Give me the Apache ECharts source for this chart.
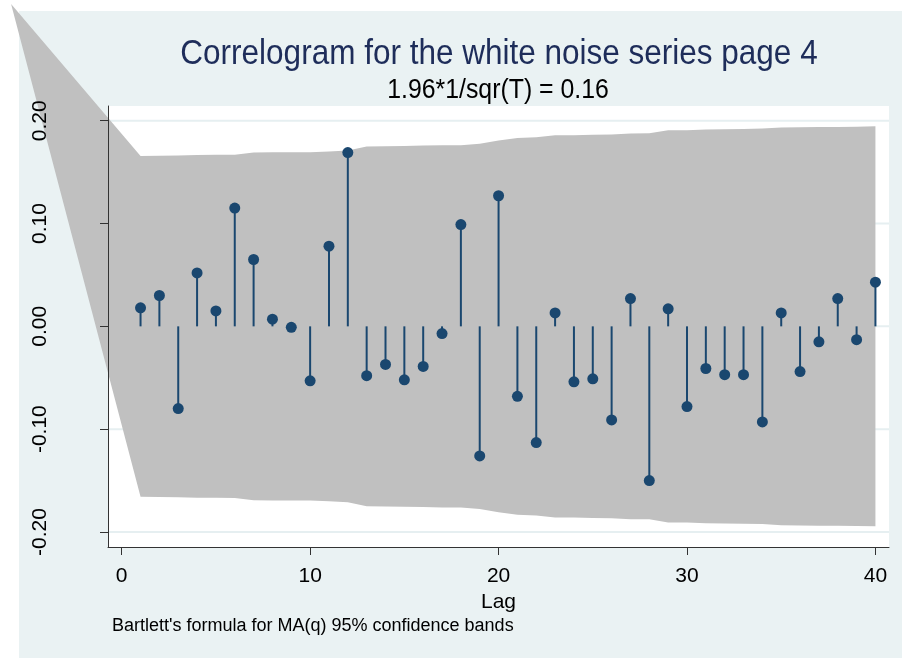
<!DOCTYPE html>
<html>
<head>
<meta charset="utf-8">
<script src="https://cdn.jsdelivr.net/npm/echarts@6/dist/echarts.min.js"></script>
<style>
  html, body { margin: 0; padding: 0; background: #ffffff; }
  #chart { width: 902px; height: 658px; }
</style>
</head>
<body>
<div id="chart"></div>
<script>
// Autocorrelations of the white noise series, lags 1..40
const lags = [1, 2, 3, 4, 5, 6, 7, 8, 9, 10,
              11, 12, 13, 14, 15, 16, 17, 18, 19, 20,
              21, 22, 23, 24, 25, 26, 27, 28, 29, 30,
              31, 32, 33, 34, 35, 36, 37, 38, 39, 40];
const acValues = [0.018, 0.030, -0.080, 0.052, 0.015, 0.115, 0.065, 0.007, -0.001, -0.053,
                  0.078, 0.169, -0.048, -0.037, -0.052, -0.039, -0.007, 0.099, -0.126, 0.127,
                  -0.068, -0.113, 0.013, -0.054, -0.051, -0.091, 0.027, -0.150, 0.017, -0.078,
                  -0.041, -0.047, -0.047, -0.093, 0.013, -0.044, -0.015, 0.027, -0.013, 0.043];
// Bartlett 95% band half-width at each lag
const bandHalfWidth = [0.1657, 0.1659, 0.1661, 0.1666, 0.1668, 0.1670, 0.1691, 0.1693, 0.1694, 0.1694,
                       0.1700, 0.1710, 0.1749, 0.1751, 0.1754, 0.1758, 0.1761, 0.1761, 0.1777, 0.1807,
                       0.1832, 0.1839, 0.1858, 0.1859, 0.1863, 0.1867, 0.1875, 0.1877, 0.1907, 0.1908,
                       0.1915, 0.1917, 0.1920, 0.1923, 0.1935, 0.1936, 0.1939, 0.1939, 0.1941, 0.1945];
// Leading vertex of the band polygon (lag, value)
const bandApex = [-5.87, 0.3135];

const xTickValues = [0, 10, 20, 30, 40];
const yTickValues = [-0.2, -0.1, 0, 0.1, 0.2];

const titleText = 'Correlogram for the white noise series page 4';
const subtitleText = '1.96*1/sqr(T) = 0.16';
const noteText = "Bartlett's formula for MA(q) 95% confidence bands";
const xAxisTitle = 'Lag';

const NAVY = '#1a476f';
const FONT = '"Liberation Sans", Arial, sans-serif';

const chart = echarts.init(document.getElementById('chart'), null, { renderer: 'canvas' });

chart.setOption({
  animation: false,
  backgroundColor: '#ffffff',
  textStyle: { fontFamily: FONT },
  graphic: [
    {
      type: 'rect', z: -10, silent: true,
      shape: { x: 19, y: 11, width: 883, height: 647 },
      style: { fill: '#eaf2f3' }
    },
    {
      type: 'text', z: 10, x: 499, y: 54, scaleX: 0.9,
      style: { text: titleText, font: '35px ' + FONT, fill: '#1e2d5a', textAlign: 'center', textVerticalAlign: 'middle' }
    },
    {
      type: 'text', z: 10, x: 498, y: 91, scaleX: 0.92,
      style: { text: subtitleText, font: '27px ' + FONT, fill: '#000000', textAlign: 'center', textVerticalAlign: 'middle' }
    },
    {
      type: 'text', z: 10, x: 112, y: 626,
      style: { text: noteText, font: '18px ' + FONT, fill: '#000000', textAlign: 'left', textVerticalAlign: 'middle' }
    }
  ],
  grid: {
    left: 108, right: 13, top: 106, bottom: 111,
    show: true, backgroundColor: '#ffffff', borderWidth: 0
  },
  xAxis: {
    type: 'value',
    z: 5,
    min: -0.727, max: 40.72,
    name: xAxisTitle, nameLocation: 'middle', nameGap: 34,
    nameTextStyle: { fontSize: 21, color: '#000', fontFamily: FONT },
    axisLine: { show: true, onZero: false, lineStyle: { color: '#333', width: 1 } },
    axisTick: { show: true, length: 8, customValues: xTickValues, lineStyle: { color: '#333' } },
    axisLabel: { customValues: xTickValues, margin: 19, fontSize: 21, color: '#000', fontFamily: FONT,
                 formatter: v => String(v) },
    splitLine: { show: false }
  },
  yAxis: {
    type: 'value',
    z: 5,
    min: -0.2146, max: 0.2143,
    axisLine: { show: true, onZero: false, lineStyle: { color: '#333', width: 1 } },
    axisTick: { show: true, length: 8, customValues: yTickValues, lineStyle: { color: '#333' } },
    axisLabel: { customValues: yTickValues, rotate: 90, margin: 57, fontSize: 21, color: '#000', fontFamily: FONT,
                 formatter: v => v.toFixed(2) },
    splitLine: { show: false }
  },
  series: [
    {
      // horizontal gridlines at the y ticks
      type: 'custom',
      z: 1,
      silent: true,
      data: yTickValues.map(v => [0, v]),
      renderItem: (params, api) => {
        const cs = params.coordSys;
        const y = api.coord([0, api.value(1)])[1];
        return { type: 'line', shape: { x1: cs.x, y1: y, x2: cs.x + cs.width, y2: y },
                 style: { stroke: '#e6eff1', lineWidth: 2 } };
      }
    },
    {
      // confidence band
      type: 'custom',
      z: 2,
      clip: false,
      silent: true,
      data: [[0, 0]],
      renderItem: (params, api) => {
        const pts = [api.coord(bandApex)];
        lags.forEach((l, i) => pts.push(api.coord([l, bandHalfWidth[i]])));
        for (let i = lags.length - 1; i >= 0; i--) pts.push(api.coord([lags[i], -bandHalfWidth[i]]));
        return { type: 'polygon', shape: { points: pts }, style: { fill: '#c0c0c0' } };
      }
    },
    {
      // spikes with markers
      type: 'custom',
      z: 6,
      data: lags.map((l, i) => [l, acValues[i]]),
      renderItem: (params, api) => {
        const lag = api.value(0), v = api.value(1);
        const base = api.coord([lag, 0]);
        const top = api.coord([lag, v]);
        return {
          type: 'group',
          children: [
            { type: 'line', shape: { x1: base[0], y1: base[1], x2: top[0], y2: top[1] },
              style: { stroke: NAVY, lineWidth: 2 } },
            { type: 'circle', shape: { cx: top[0], cy: top[1], r: 5.5 },
              style: { fill: NAVY } }
          ]
        };
      }
    }
  ]
});
</script>
</body>
</html>
